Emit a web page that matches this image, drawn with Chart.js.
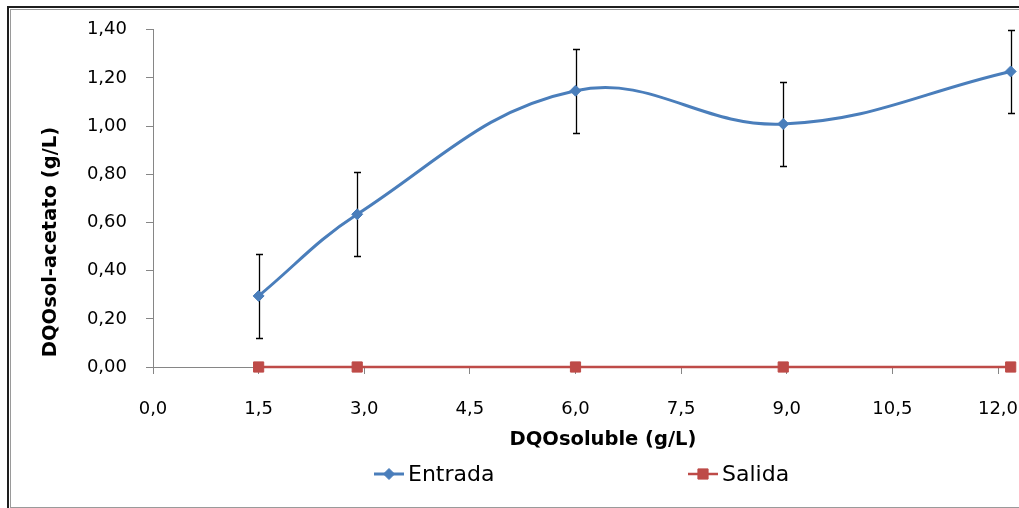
<!DOCTYPE html>
<html>
<head>
<meta charset="utf-8">
<script src="https://cdn.jsdelivr.net/npm/chart.js@4.4.1/dist/chart.umd.min.js"></script>
<style>
  html, body { margin: 0; padding: 0; background: #fff; overflow: hidden; }
  #wrap { position: relative; width: 1019px; height: 508px; }
  #wrap canvas { position: absolute; left: 0; top: 0; }
  .ln { position: absolute; }
</style>
</head>
<body>
<div id="wrap">
  <canvas id="chart" width="1019" height="508"></canvas>
  <!-- marco del gráfico -->
  <div class="ln" style="left:7px;top:6px;width:2px;height:502px;background:#1e1e1e"></div>
  <div class="ln" style="left:7px;top:6px;width:1012px;height:2px;background:#1e1e1e"></div>
  <div class="ln" style="left:10px;top:9px;width:1px;height:499px;background:#9a9a9a"></div>
  <div class="ln" style="left:10px;top:9px;width:1009px;height:1px;background:#9a9a9a"></div>
  <div class="ln" style="left:10px;top:507px;width:1009px;height:1px;background:#9a9a9a"></div>
</div>
<script>
// Datos
const xValues = [1.5, 2.9, 6.0, 8.95, 12.18];          // DQO soluble (g/L)
const entrada = [0.295, 0.634, 1.147, 1.009, 1.227];   // DQOsol-acetato entrada
const entradaErr = [0.174, 0.174, 0.174, 0.174, 0.174];
const salida = [0, 0, 0, 0, 0];                        // DQOsol-acetato salida

const seriesNames = ['Entrada', 'Salida'];
const xTitle = 'DQOsoluble (g/L)';
const yTitle = 'DQOsol-acetato (g/L)';

const blue = '#4A7EBB';
const red = '#BE4B48';

Chart.defaults.font.family = "'DejaVu Sans', sans-serif";
Chart.defaults.color = '#000';

const toComma = (v, d) => Number(v).toFixed(d).replace('.', ',');

// Barras de error (en negro, debajo de la línea)
const errorBars = {
  id: 'errorBars',
  beforeDatasetsDraw(chart) {
    const ctx = chart.ctx;
    const xs = chart.scales.x, ys = chart.scales.y;
    ctx.save();
    ctx.strokeStyle = '#000';
    ctx.lineWidth = 1.3;
    xValues.forEach((xv, i) => {
      const px = Math.round(xs.getPixelForValue(xv)) + 0.5;
      const top = Math.round(ys.getPixelForValue(entrada[i] + entradaErr[i])) + 0.5;
      const bot = Math.round(ys.getPixelForValue(entrada[i] - entradaErr[i])) + 0.5;
      ctx.beginPath();
      ctx.moveTo(px, top); ctx.lineTo(px, bot);
      ctx.moveTo(px - 3.5, top); ctx.lineTo(px + 3.5, top);
      ctx.moveTo(px - 3.5, bot); ctx.lineTo(px + 3.5, bot);
      ctx.stroke();
    });
    ctx.restore();
  }
};

// Excel dibuja también los marcadores que quedan fuera del área (x > 12)
const outsidePoints = {
  id: 'outsidePoints',
  afterDatasetsDraw(chart) {
    const area = chart.chartArea;
    const full = { left: 0, top: 0, right: chart.width, bottom: chart.height };
    chart.data.datasets.forEach((ds, i) => {
      chart.getDatasetMeta(i).data.forEach(pt => {
        if (pt.x > area.right + 0.5 || pt.x < area.left - 0.5) {
          pt.draw(chart.ctx, full);
        }
      });
    });
  }
};

// Títulos de ejes y leyenda al estilo Excel
const titlesAndLegend = {
  id: 'titlesAndLegend',
  afterDraw(chart) {
    const ctx = chart.ctx;
    const area = chart.chartArea;
    ctx.save();
    ctx.fillStyle = '#000';
    ctx.font = "bold 19.5px 'DejaVu Sans'";
    ctx.textAlign = 'center';
    ctx.textBaseline = 'middle';

    // título eje Y
    ctx.save();
    ctx.translate(51, area.bottom - 125);
    ctx.rotate(-Math.PI / 2);
    ctx.fillText(yTitle, 0, 0);
    ctx.restore();

    // título eje X
    ctx.fillText(xTitle, area.left + 450, area.bottom + 73);

    // leyenda
    const ly = area.bottom + 107;
    const items = [
      { x: 374, ds: chart.data.datasets[0] },
      { x: 688, ds: chart.data.datasets[1] }
    ];
    ctx.font = "22px 'DejaVu Sans'";
    ctx.textAlign = 'left';
    items.forEach(it => {
      const ds = it.ds;
      ctx.strokeStyle = ds.borderColor;
      ctx.lineWidth = ds.borderWidth;
      ctx.beginPath();
      ctx.moveTo(it.x, ly); ctx.lineTo(it.x + 30, ly);
      ctx.stroke();
      ctx.fillStyle = ds.pointBackgroundColor;
      ctx.strokeStyle = ds.pointBorderColor;
      ctx.lineWidth = ds.pointBorderWidth;
      Chart.helpers.drawPoint(ctx, {
        pointStyle: ds.pointStyle,
        radius: ds.pointRadius,
        rotation: 0,
        borderWidth: ds.pointBorderWidth
      }, it.x + 15, ly);
      ctx.fillStyle = '#000';
      ctx.fillText(ds.label, it.x + 34, ly + 1);
    });
    ctx.restore();
  }
};

const ctx = document.getElementById('chart').getContext('2d');
new Chart(ctx, {
  type: 'line',
  data: {
    datasets: [
      {
        label: seriesNames[0],
        data: xValues.map((x, i) => ({ x: x, y: entrada[i] })),
        borderColor: blue,
        backgroundColor: blue,
        borderWidth: 3,
        tension: 0.4,
        capBezierPoints: false,
        pointStyle: 'rectRot',
        pointRadius: 5.5,
        pointBorderWidth: 1,
        pointBackgroundColor: blue,
        pointBorderColor: blue,
        clip: false
      },
      {
        label: seriesNames[1],
        data: xValues.map((x, i) => ({ x: x, y: salida[i] })),
        borderColor: red,
        backgroundColor: red,
        borderWidth: 2.5,
        tension: 0,
        pointStyle: 'rect',
        pointRadius: 7.2,
        pointBorderWidth: 1,
        pointBackgroundColor: red,
        pointBorderColor: red,
        clip: false
      }
    ]
  },
  options: {
    responsive: false,
    animation: false,
    layout: { padding: { top: 29, right: 21, left: 0, bottom: 0 } },
    plugins: {
      legend: { display: false },
      tooltip: { enabled: false }
    },
    scales: {
      x: {
        type: 'linear',
        min: 0,
        max: 12,
        afterFit(scale) {
          scale.height = 141;
          scale.paddingRight = 0;
          scale.paddingLeft = 0;
        },
        ticks: {
          stepSize: 1.5,
          padding: 25,
          font: { size: 18 },
          color: '#000',
          maxRotation: 0,
          callback: v => toComma(v, 1)
        },
        grid: { drawOnChartArea: false, drawTicks: true, tickLength: 7, color: '#868686' },
        border: { display: true, color: '#868686' }
      },
      y: {
        min: 0,
        max: 1.4,
        afterFit(scale) { scale.width = 153; },
        ticks: {
          stepSize: 0.2,
          padding: 19,
          font: { size: 18 },
          color: '#000',
          callback: v => toComma(v, 2)
        },
        grid: { drawOnChartArea: false, drawTicks: true, tickLength: 7, color: '#868686' },
        border: { display: true, color: '#868686' }
      }
    }
  },
  plugins: [errorBars, outsidePoints, titlesAndLegend]
});
</script>
</body>
</html>
